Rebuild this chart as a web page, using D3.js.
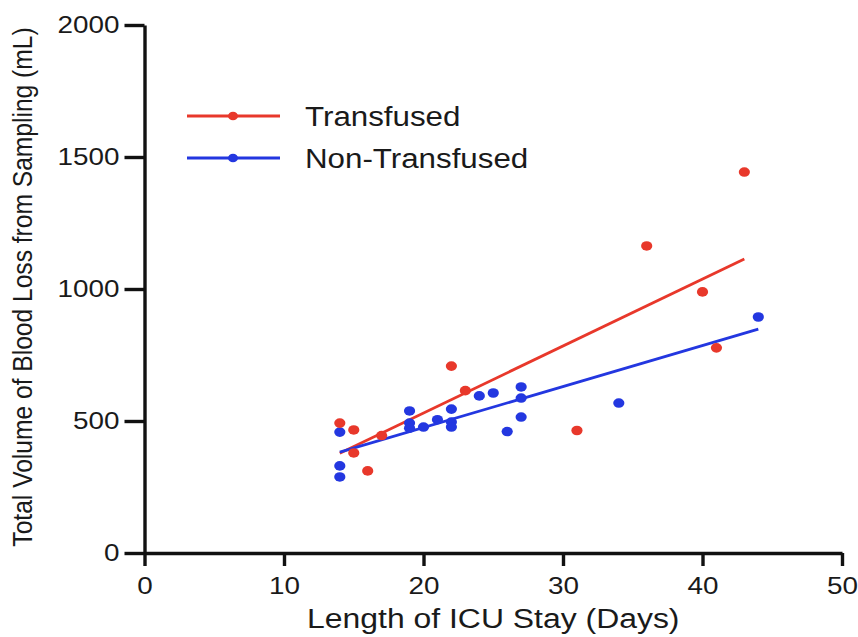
<!DOCTYPE html>
<html>
<head>
<meta charset="utf-8">
<script src="https://cdn.jsdelivr.net/npm/d3@7"></script>
<style>
  html, body { margin: 0; padding: 0; background: #fff; }
  svg text { font-family: "Liberation Sans", Arial, Helvetica, sans-serif; fill: #1a1a1a; }
</style>
</head>
<body>
<svg id="chart" width="858" height="637"></svg>
<script>
// ── Data ──────────────────────────────────────────────────────────────────
const xTicks = [0, 10, 20, 30, 40, 50];
const yTicks = [0, 500, 1000, 1500, 2000];

const transfusedDays = [14, 15, 15, 16, 17, 22, 23, 31, 36, 40, 41, 43];
const transfusedVol  = [492, 466, 379, 311, 445, 708, 615, 464, 1163, 989, 777, 1443];

const nonTransDays = [14, 14, 14, 19, 19, 19, 20, 21, 22, 22, 22, 24, 25, 26, 27, 27, 27, 34, 44];
const nonTransVol  = [458, 330, 288, 538, 492, 473, 477, 505, 545, 496, 477, 595, 606, 460, 629, 587, 515, 568, 894];

// Fit line end points as drawn in the figure.
const transfusedFit = [[14, 378], [43, 1114]];
const nonTransFit   = [[14, 382], [44, 848]];

const seriesNames  = ['Transfused', 'Non-Transfused'];
const seriesColors = ['#e8382b', '#2337e0'];

// ── Layout ────────────────────────────────────────────────────────────────
// The source image is stretched sideways a little; text gets the same squash.
const SX = 1.16;
const svg = d3.select('#chart');

const x = d3.scaleLinear().domain([0, 50]).range([144.5, 842]);
const y = d3.scaleLinear().domain([0, 2000]).range([553, 25]);

// Axes
const xAxisG = svg.append('g').attr('transform', `translate(0,${y(0)})`)
  .call(d3.axisBottom(x).tickValues(xTicks).tickFormat(d3.format('d'))
    .tickSize(13).tickSizeOuter(0).tickPadding(11));
const yAxisG = svg.append('g').attr('transform', `translate(${x(0)},0)`)
  .call(d3.axisLeft(y).tickValues(yTicks).tickFormat(d3.format('d'))
    .tickSize(20).tickSizeOuter(0).tickPadding(5));

[xAxisG, yAxisG].forEach(g => {
  g.select('.domain').attr('stroke', '#111').attr('stroke-width', 3.4);
  g.selectAll('.tick line').attr('stroke', '#111').attr('stroke-width', 3.4);
  g.selectAll('.tick text').attr('font-size', 24).attr('fill', '#1a1a1a')
    .attr('font-family', '"Liberation Sans", Arial, sans-serif');
});
xAxisG.selectAll('.tick text').attr('transform', `scale(${SX},1)`);
yAxisG.selectAll('.tick text').attr('x', -25 / SX).attr('transform', `scale(${SX},1)`);

// Axis labels
svg.append('text')
  .attr('transform', `translate(${(x(0) + x(50)) / 2},628) scale(${SX - 0.02},1)`)
  .attr('text-anchor', 'middle').attr('font-size', 28)
  .text('Length of ICU Stay (Days)');
svg.append('text')
  .attr('transform', `translate(32,${(y(0) + y(2000)) / 2 - 2}) scale(${SX},1) rotate(-90)`)
  .attr('text-anchor', 'middle').attr('font-size', 24.6)
  .text('Total Volume of Blood Loss from Sampling (mL)');

// Fit lines
const line = d3.line().x(d => x(d[0])).y(d => y(d[1]));
[transfusedFit, nonTransFit].forEach((pts, i) => {
  svg.append('path').datum(pts).attr('d', line)
    .attr('fill', 'none').attr('stroke', seriesColors[i]).attr('stroke-width', 2.8);
});

// Points
function drawDots(days, vols, color) {
  svg.append('g').selectAll('ellipse').data(days).enter().append('ellipse')
    .attr('cx', (d, i) => x(d))
    .attr('cy', (d, i) => y(vols[i]))
    .attr('rx', 5.6).attr('ry', 4.8)
    .attr('fill', color);
}
drawDots(nonTransDays, nonTransVol, seriesColors[1]);
drawDots(transfusedDays, transfusedVol, seriesColors[0]);

// Legend
const legend = svg.append('g');
seriesNames.forEach((name, i) => {
  const ly = 116 + i * 42;
  legend.append('line').attr('x1', 187).attr('x2', 280).attr('y1', ly).attr('y2', ly)
    .attr('stroke', seriesColors[i]).attr('stroke-width', 2.8);
  legend.append('ellipse').attr('cx', 233).attr('cy', ly).attr('rx', 5).attr('ry', 4.3)
    .attr('fill', seriesColors[i]);
  legend.append('text')
    .attr('transform', `translate(305,${ly + 10}) scale(${SX},1)`)
    .attr('font-size', 27)
    .text(name);
});
</script>
</body>
</html>
